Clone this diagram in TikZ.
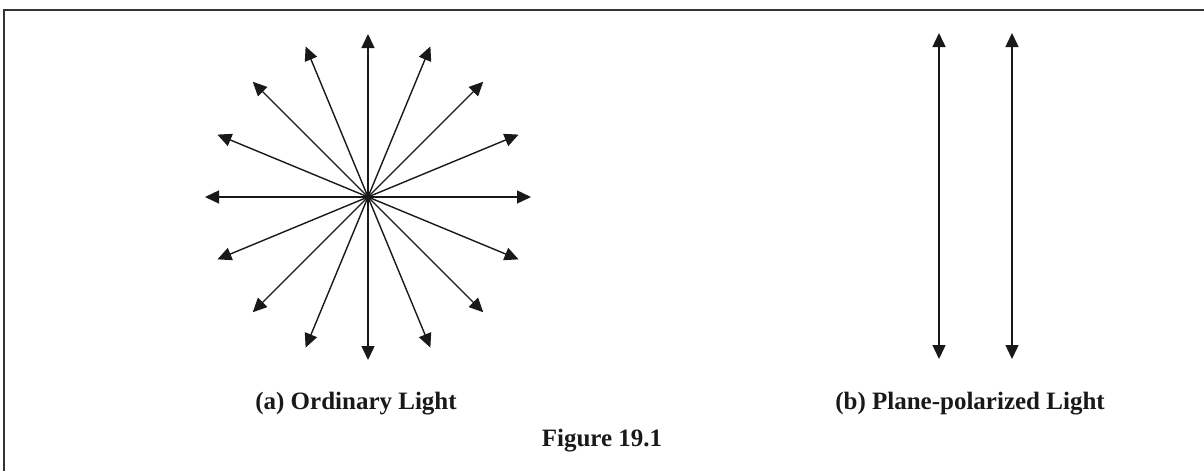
\documentclass[tikz,border=0pt]{standalone}
\usepackage{fontspec}
\setmainfont{Liberation Serif}
\usetikzlibrary{arrows.meta,calc}
\tikzset{
  ray/.style={line width=1.4pt, draw=black!90, -{Triangle[length=14pt,width=13pt]}},
  dray/.style={line width=1.4pt, draw=black!90, {Triangle[length=14pt,width=13pt]}-{Triangle[length=14pt,width=13pt]}},
  lbl/.style={font=\fontsize{25}{30}\selectfont\bfseries, text=black!90, inner sep=0pt},
  frameline/.style={line width=2.6pt, draw=black!80}
}
\begin{document}
\begin{tikzpicture}[x=1pt,y=-1pt]
\useasboundingbox (0,0) rectangle (1204,471);
\coordinate (fa) at (4,471);
\coordinate (fb) at (4,10);
\coordinate (fc) at (1204,10);
\draw[frameline] (fa) -- (fb) -- (fc);
% star
\coordinate (c) at (368,197);
\foreach \i in {0,...,15} {
  \coordinate (t\i) at ($(c)+({22.5*\i}:163)$);
}
\foreach \i in {0,...,15} {
  \draw[ray] (c) -- (t\i);
}
% polarized
\coordinate (p1a) at (939,33);
\coordinate (p1b) at (939,359);
\coordinate (p2a) at (1012,33);
\coordinate (p2b) at (1012,359);
\draw[dray] (p1b) -- (p1a);
\draw[dray] (p2b) -- (p2a);
\node[lbl] (la) at (356,404) {(a) Ordinary Light};
\node[lbl] (lb) at (970,404) {(b) Plane-polarized Light};
\node[lbl] (fig) at (602,441) {Figure 19.1};
\end{tikzpicture}
\end{document}
